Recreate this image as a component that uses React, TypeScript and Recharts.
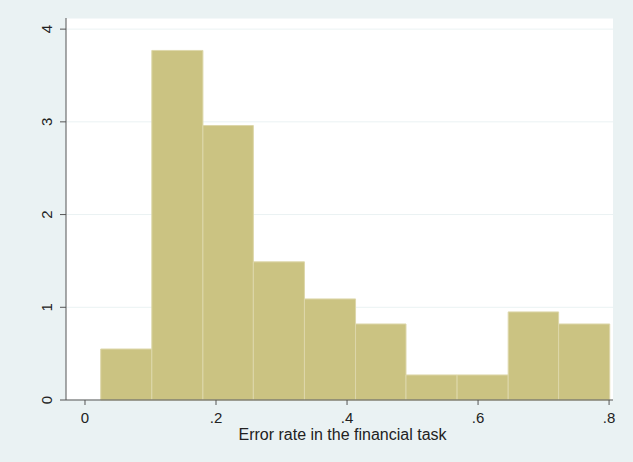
import React from "react";
import {
  ComposedChart,
  XAxis,
  YAxis,
  CartesianGrid,
  ReferenceArea,
  Line,
  Label,
} from "recharts";

// Histogram bin edges (error rate) and densities
const binStarts = [0.024, 0.102, 0.18, 0.257, 0.335, 0.413, 0.49, 0.568, 0.646, 0.723];
const binEnds = [0.102, 0.18, 0.257, 0.335, 0.413, 0.49, 0.568, 0.646, 0.723, 0.801];
const densities = [0.55, 3.77, 2.96, 1.49, 1.09, 0.82, 0.27, 0.27, 0.95, 0.82];
const xTicks = [0, 0.2, 0.4, 0.6, 0.8];
const xTickLabels = ["0", ".2", ".4", ".6", ".8"];
const yTicks = [0, 1, 2, 3, 4];

const data = binStarts.map((s, i) => ({
  x0: s,
  x1: binEnds[i],
  mid: (s + binEnds[i]) / 2,
  d: densities[i],
}));

const FONT = "'Liberation Sans', Arial, sans-serif";

const YTick = (props: any) => {
  const { x, y, payload } = props;
  const cx = x - 8;
  return (
    <text
      x={cx}
      y={y}
      transform={`rotate(-90, ${cx}, ${y})`}
      textAnchor="middle"
      fontSize={15}
      fontFamily={FONT}
      fill="#222"
    >
      {String(payload.value)}
    </text>
  );
};

export default function App() {
  return (
    <div
      style={{
        position: "fixed",
        left: 0,
        top: 0,
        width: 633,
        height: 462,
        background: "#EAF2F3",
      }}
    >
      <ComposedChart
        width={633}
        height={462}
        data={data}
        margin={{ top: 18, right: 20, left: 0, bottom: 0 }}
      >
        <CartesianGrid
          vertical={false}
          horizontal={true}
          stroke="#EAF2F3"
          fill="#FFFFFF"
          fillOpacity={1}
        />
        <XAxis
          dataKey="mid"
          type="number"
          domain={[-0.029, 0.806]}
          ticks={xTicks}
          tickFormatter={(v: number) => xTickLabels[xTicks.indexOf(v)] ?? String(v)}
          allowDataOverflow
          height={62}
          tickSize={5}
          tickMargin={7}
          stroke="#555555"
          tick={{ fontSize: 15, fontFamily: FONT, fill: "#222" }}
        >
          <Label
            value="Error rate in the financial task"
            position="insideBottom"
            offset={22}
            dx={3}
            style={{ fontSize: 16, fontFamily: FONT, fill: "#222" }}
          />
        </XAxis>
        <YAxis
          type="number"
          domain={[0, 4.12]}
          ticks={yTicks}
          allowDataOverflow
          width={66}
          tickSize={6}
          tickMargin={0}
          stroke="#555555"
          tick={<YTick />}
        />
        {data.map((b, i) => (
          <ReferenceArea
            key={i}
            x1={b.x0}
            x2={b.x1}
            y1={0}
            y2={b.d}
            fill="#CBC382"
            fillOpacity={1}
            stroke="#DDD7AA"
            strokeWidth={1}
            ifOverflow="visible"
          />
        ))}
        <Line
          dataKey="d"
          stroke="none"
          dot={false}
          activeDot={false}
          isAnimationActive={false}
          legendType="none"
        />
      </ComposedChart>
    </div>
  );
}
